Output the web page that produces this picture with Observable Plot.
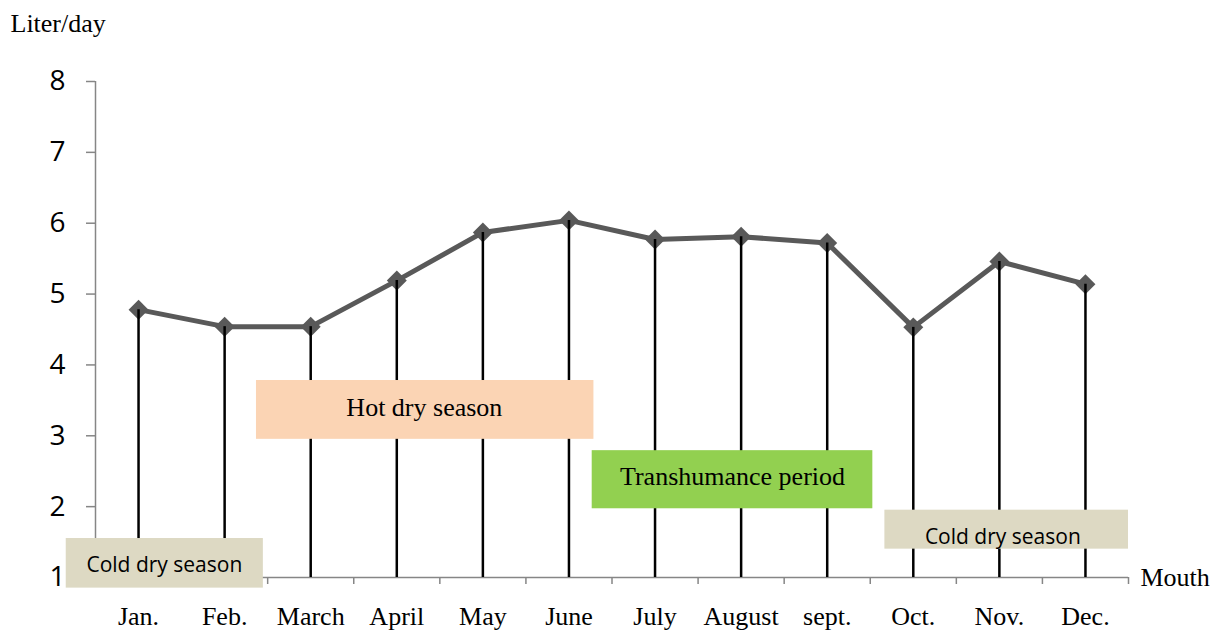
<!DOCTYPE html>
<html><head><meta charset="utf-8">
<script src="https://cdn.jsdelivr.net/npm/d3@7"></script>
<script src="https://cdn.jsdelivr.net/npm/@observablehq/plot@0.6"></script>
<style>body{margin:0;background:#fff}</style>
</head><body><div id="chart"></div>
<script>
const months = ["Jan.","Feb.","March","April","May","June","July","August","sept.","Oct.","Nov.","Dec."];
const liters = [4.78,4.54,4.54,5.19,5.87,6.04,5.77,5.81,5.72,4.53,5.46,5.14];
const yTicks = [1,2,3,4,5,6,7,8];
const yLabel = "Liter/day";
const xLabel = "Mouth";

// Season annotation boxes (in month-index / liter units)
const seasonNames = ["Cold dry season","Hot dry season","Transhumance period","Cold dry season"];
const seasonFrom = [-0.34, 1.87, 5.77, 9.17];
const seasonTo = [1.95, 5.79, 9.03, 12.0];
const seasonLow = [0.85, 2.95, 1.97, 1.40];
const seasonHigh = [1.55, 3.78, 2.79, 1.95];
const seasonTextX = [0.80, 3.82, 7.40, 10.54];
const seasonTextY = [1.17, 3.40, 2.43, 1.565];

const SERIF = "'Liberation Serif','Times New Roman',serif";
const SANS = "'Open Sans','Liberation Sans',sans-serif";
const seasonFills = ["#DDD9C3","#FBD4B4","#92D050","#DDD9C3"];
const seasonSerif = [false, true, true, false];

const rows = months.map((m, i) => ({month: m, i: i + 0.5, value: liters[i]}));
const seasons = seasonNames.map((n, k) => ({
  name: n, x1: seasonFrom[k], x2: seasonTo[k], y1: seasonLow[k], y2: seasonHigh[k],
  tx: seasonTextX[k], ty: seasonTextY[k], fill: seasonFills[k], serif: seasonSerif[k]
}));

const AXIS = "#868686";

const chart = Plot.plot({
  width: 1221,
  height: 632,
  marginLeft: 95,
  marginRight: 93,
  marginTop: 81,
  marginBottom: 55,
  style: {background: "white"},
  x: {domain: [0, 12], axis: null},
  y: {domain: [1, 8], axis: null},
  marks: [
    // axes lines
    Plot.ruleX([0], {y1: 1, y2: 8, stroke: AXIS, strokeWidth: 1.5}),
    Plot.ruleY([1], {x1: 0, x2: 12, stroke: AXIS, strokeWidth: 1.5}),
    Plot.axisY({ticks: yTicks, tickSize: 9, tickPadding: 21, stroke: AXIS, strokeWidth: 1.5,
      fontSize: 28, fontFamily: SANS, fill: "black", tickFormat: d3.format("d")}),
    Plot.axisX({ticks: d3.range(0, 13), tickSize: 7, stroke: AXIS, strokeWidth: 1.5, tickFormat: () => ""}),
    Plot.axisX({ticks: rows.map(d => d.i), tickSize: 0, tickPadding: 29,
      tickFormat: v => months[Math.floor(v)], fontSize: 26, fontFamily: SERIF, fill: "black"}),
    // series
    Plot.line(rows, {x: "i", y: "value", stroke: "#595959", strokeWidth: 5}),
    Plot.dot(rows, {x: "i", y: "value", symbol: "diamond2", r: 9, fill: "#595959"}),
    Plot.ruleX(rows, {x: "i", y1: 1, y2: "value", stroke: "black", strokeWidth: 2.5}),
    // season boxes
    Plot.rect(seasons, {x1: "x1", x2: "x2", y1: "y1", y2: "y2", fill: d => d.fill}),
    Plot.text(seasons.filter(d => d.serif), {x: "tx", y: "ty", text: "name", fontSize: 26, fontFamily: SERIF, fill: "black"}),
    Plot.text(seasons.filter(d => !d.serif), {x: "tx", y: "ty", text: "name", fontSize: 21, fontFamily: SANS, fill: "black"}),
    // axis titles
    Plot.text([yLabel], {frameAnchor: "top-left", dx: -85, dy: -68, textAnchor: "start", fontSize: 26, fontFamily: SERIF, fill: "black"}),
    Plot.text([xLabel], {frameAnchor: "bottom-right", dx: 12, dy: 8, textAnchor: "start", fontSize: 26, fontFamily: SERIF, fill: "black"})
  ]
});
document.getElementById("chart").appendChild(chart);
</script>
</body></html>
